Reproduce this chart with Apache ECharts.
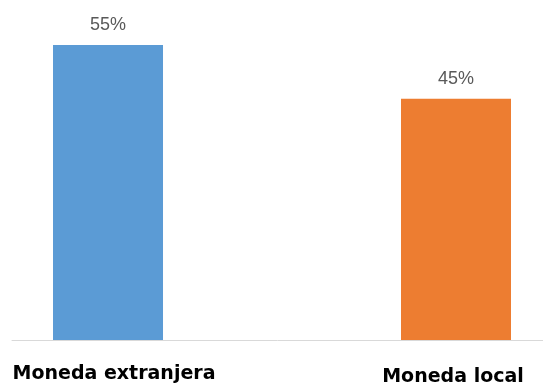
<!DOCTYPE html>
<html>
<head>
<meta charset="utf-8">
<script src="https://cdn.jsdelivr.net/npm/echarts@6/dist/echarts.min.js"></script>
<style>
  html, body { margin: 0; padding: 0; background: #ffffff; }
  #chart { width: 543px; height: 385px; }
</style>
</head>
<body>
<div id="chart"></div>
<script>
// Share of debt by currency
const categories = ['Moneda extranjera', 'Moneda local'];
const shares = [55, 45];
const barColors = ['#5b9bd5', '#ed7d31'];

// Bars sit at x = 0 and x = 1 on a numeric axis so the baseline can span the full width
const positions = categories.map((_, i) => i);

const labelFont = {
  fontFamily: 'DejaVu Sans',
  fontWeight: 'bold',
  fontSize: 19,
  color: '#000000'
};

const chart = echarts.init(document.getElementById('chart'), null, { renderer: 'canvas' });

chart.setOption({
  animation: false,
  backgroundColor: '#ffffff',
  grid: {
    left: 12, right: 0, top: 18.18, bottom: 45,
    containLabel: false,
    outerBoundsMode: 'none'
  },
  xAxis: {
    type: 'value',
    min: -0.2759,
    max: 1.25,
    splitLine: { show: false },
    axisTick: { show: false },
    axisLine: { show: true, lineStyle: { color: '#d9d9d9', width: 1 } },
    axisLabel: Object.assign({
      customValues: positions,
      margin: 21,
      formatter: v => {
        const i = Math.round(v);
        return '{c' + i + '|' + categories[i] + '}';
      },
      rich: {
        c0: Object.assign({ padding: [4, 0, 0, 12] }, labelFont),
        c1: Object.assign({ padding: [7, 6, 0, 0] }, labelFont)
      }
    }, labelFont)
  },
  yAxis: {
    type: 'value',
    min: 0,
    max: 60,
    show: false,
    splitLine: { show: false }
  },
  series: [{
    type: 'bar',
    barWidth: 110,
    data: positions.map((p, i) => ({
      value: [p, shares[i]],
      itemStyle: { color: barColors[i] }
    })),
    label: {
      show: true,
      position: 'top',
      distance: 11,
      fontFamily: 'Liberation Sans',
      fontSize: 18,
      color: '#595959',
      formatter: p => p.value[1] + '%'
    }
  }]
});
</script>
</body>
</html>
